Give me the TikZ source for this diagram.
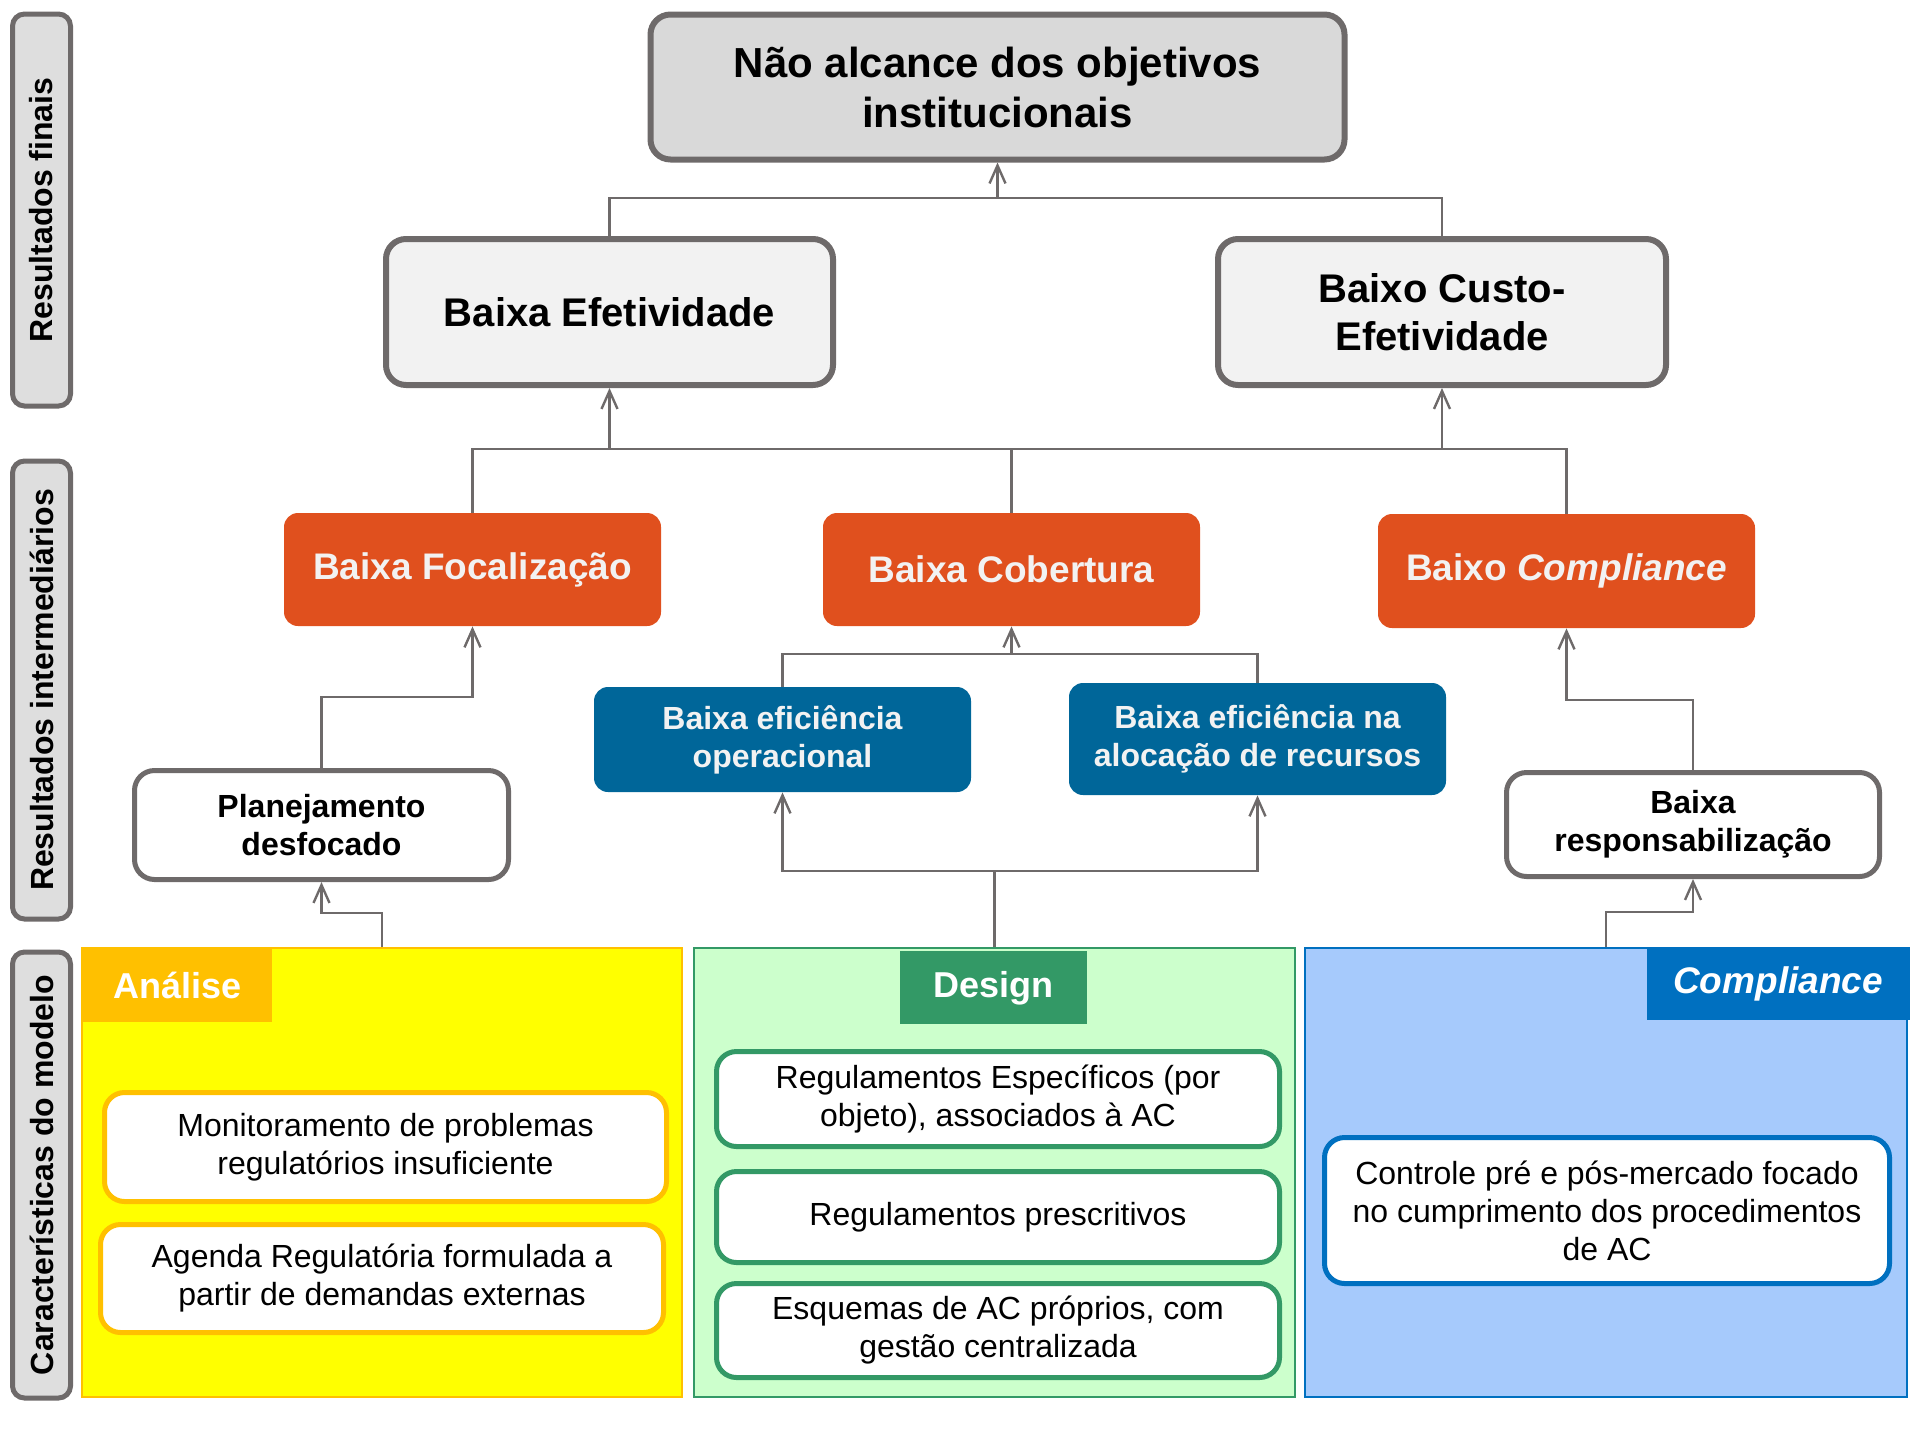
\documentclass[tikz,border=0pt]{standalone}
\usepackage{fontspec}
\setmainfont{Liberation Sans}
\usetikzlibrary{arrows.meta, positioning}
\definecolor{linegrey}{RGB}{110,106,106}
\definecolor{sidegrey}{RGB}{222,222,222}
\definecolor{topgrey}{RGB}{217,217,217}
\definecolor{lightgrey}{RGB}{242,242,242}
\definecolor{redorange}{RGB}{224,80,30}
\definecolor{petrol}{RGB}{0,102,153}
\definecolor{lemon}{RGB}{255,255,0}
\definecolor{gold}{RGB}{255,192,0}
\definecolor{mint}{RGB}{204,255,204}
\definecolor{seagreen}{RGB}{51,153,102}
\definecolor{sky}{RGB}{166,202,252}
\definecolor{royal}{RGB}{0,112,192}
\tikzset{
    sidebar/.style={draw=linegrey, line width=2.5pt, fill=sidegrey, rounded corners=6pt, rotate=90, minimum height=29pt, inner sep=0pt, font=\fontsize{16pt}{19pt}\selectfont\bfseries},
    greybox/.style={draw=linegrey, line width=3pt, rounded corners=10pt, align=center, inner sep=0pt, font=\fontsize{20pt}{24pt}\selectfont\bfseries},
    redbox/.style={fill=redorange, text=lightgrey, rounded corners=7pt, minimum width=188.5pt, align=center, inner sep=0pt, font=\fontsize{18.5pt}{22pt}\selectfont\bfseries},
    bluebox/.style={fill=petrol, text=lightgrey, rounded corners=7pt, minimum width=188.5pt, align=center, inner sep=0pt, font=\fontsize{16pt}{19pt}\selectfont\bfseries},
    whitebox/.style={draw=linegrey, line width=2.5pt, fill=white, rounded corners=10pt, align=center, inner sep=0pt, font=\fontsize{16pt}{19pt}\selectfont\bfseries},
    panel/.style={line width=1pt, inner sep=0pt},
    tab/.style={text=white, inner sep=0pt, minimum height=36.5pt, font=\fontsize{18pt}{21pt}\selectfont\bfseries},
    item/.style={line width=2.5pt, fill=white, rounded corners=10pt, align=center, inner sep=0pt, font=\fontsize{16pt}{19pt}\selectfont},
    link/.style={draw=linegrey, line width=1.2pt},
    arrow/.style={-{Straight Barb[length=9pt, width=8pt]}, draw=linegrey, line width=1.2pt}
}
\begin{document}
\begin{tikzpicture}[x=0.5pt, y=-0.5pt]
    \useasboundingbox (0,0) rectangle (1920,1440);
    \node [sidebar, minimum width=196pt] (s1) at (41.5,210) {Resultados finais};
    \node [sidebar, minimum width=229pt] (s2) at (41.5,690) {Resultados intermediários};
    \node [sidebar, minimum width=223pt] (s3) at (41.5,1175) {Características do modelo};

    \node [greybox, fill=topgrey, minimum width=347pt, minimum height=72.5pt, font=\fontsize{21pt}{25pt}\selectfont\bfseries] (top) at (997.5,87) {Não alcance dos objetivos\\institucionais};
    \node [greybox, fill=lightgrey, minimum width=223.5pt, minimum height=73pt] (eff) at (609.5,312) {Baixa Efetividade};
    \node [greybox, fill=lightgrey, minimum width=224pt, minimum height=73pt] (cef) at (1442,312) {Baixo Custo-\\Efetividade};

    \node [redbox, minimum height=56.5pt] (foc) at (472.5,569.5) {Baixa Focalização};
    \node [redbox, minimum height=56.5pt] (cob) at (1011.5,569.5) {Baixa Cobertura};
    \node [redbox, minimum height=57pt] (com) at (1566.5,571) {Baixo \textit{Compliance}};
    \node [bluebox, minimum height=52.5pt] (op) at (782.5,739.5) {Baixa eficiência\\operacional};
    \node [bluebox, minimum height=56pt] (aloc) at (1257.5,739) {Baixa eficiência na\\alocação de recursos};
    \node [whitebox, minimum width=187pt, minimum height=54.5pt] (plan) at (321.5,825) {Planejamento\\desfocado};
    \node [whitebox, minimum width=186.5pt, minimum height=52pt] (resp) at (1693,824.5) {Baixa\\responsabilização};

    \node [panel, fill=lemon, draw=gold, minimum width=300pt, minimum height=224.5pt] (pA) at (382,1172.5) {};
    \node [panel, fill=mint, draw=seagreen, minimum width=300.5pt, minimum height=224.5pt] (pD) at (994.5,1172.5) {};
    \node [panel, fill=sky, draw=royal, minimum width=301pt, minimum height=224.5pt] (pC) at (1606,1172.5) {};
    \node [tab, fill=gold, anchor=north west, minimum width=94.5pt] (hA) at (83,949) {Análise};
    \node [tab, fill=seagreen, anchor=north west, minimum width=93.5pt] (hD) at (900,951) {Design};
    \node [tab, fill=royal, anchor=north east, minimum width=131.5pt, font=\fontsize{18.5pt}{21pt}\selectfont\bfseries] (hC) at (1910,947) {\textit{Compliance}};

    \node [item, draw=gold, minimum width=281pt, minimum height=54.5pt] (mon) at (385.5,1147) {Monitoramento de problemas\\regulatórios insuficiente};
    \node [item, draw=gold, minimum width=281.5pt, minimum height=54pt] (age) at (382,1278.5) {Agenda Regulatória formulada a\\partir de demandas externas};
    \node [item, draw=seagreen, minimum width=281.5pt, minimum height=47.5pt] (reg) at (998,1099) {Regulamentos Específicos (por\\objeto), associados à AC};
    \node [item, draw=seagreen, minimum width=281.5pt, minimum height=45.5pt] (pre) at (998,1217) {Regulamentos prescritivos};
    \node [item, draw=seagreen, minimum width=281.5pt, minimum height=47pt] (esq) at (998,1330.5) {Esquemas de AC próprios, com\\gestão centralizada};
    \node [item, draw=royal, minimum width=282.5pt, minimum height=73pt] (ctl) at (1607,1210.5) {Controle pré e pós-mercado focado\\no cumprimento dos procedimentos\\de AC};

    \coordinate (j1) at (top.south |- 0,198);
    \coordinate (j2) at (cob.north |- 0,449);
    \coordinate (j3) at (cob.south |- 0,654);
    \coordinate (k1) at (foc.south |- 0,697);
    \coordinate (k2) at (com.south |- 0,700);
    \coordinate (k3) at (plan.south |- 0,913);
    \coordinate (k4) at (pD.north |- 0,871);
    \coordinate (k5) at (resp.south |- 0,912);

    \draw [link] (eff.north) |- (j1) -| (cef.north);
    \draw [arrow] (j1) -- (top.south);
    \draw [link] (foc.north) |- (j2) -| (com.north);
    \draw [link] (cob.north) -- (j2);
    \draw [arrow] (eff.south |- j2) -- (eff.south);
    \draw [arrow] (cef.south |- j2) -- (cef.south);
    \draw [link] (op.north) |- (j3) -| (aloc.north);
    \draw [arrow] (j3) -- (cob.south);
    \draw [arrow] (plan.north) |- (k1) -- (foc.south);
    \draw [arrow] (resp.north) |- (k2) -- (com.south);
    \draw [arrow] (pA.north) |- (k3) -- (plan.south);
    \draw [link] (pD.north) -- (k4);
    \draw [arrow] (k4) -| (op.south);
    \draw [arrow] (k4) -| (aloc.south);
    \draw [arrow] (pC.north) |- (k5) -- (resp.south);
\end{tikzpicture}
\end{document}
